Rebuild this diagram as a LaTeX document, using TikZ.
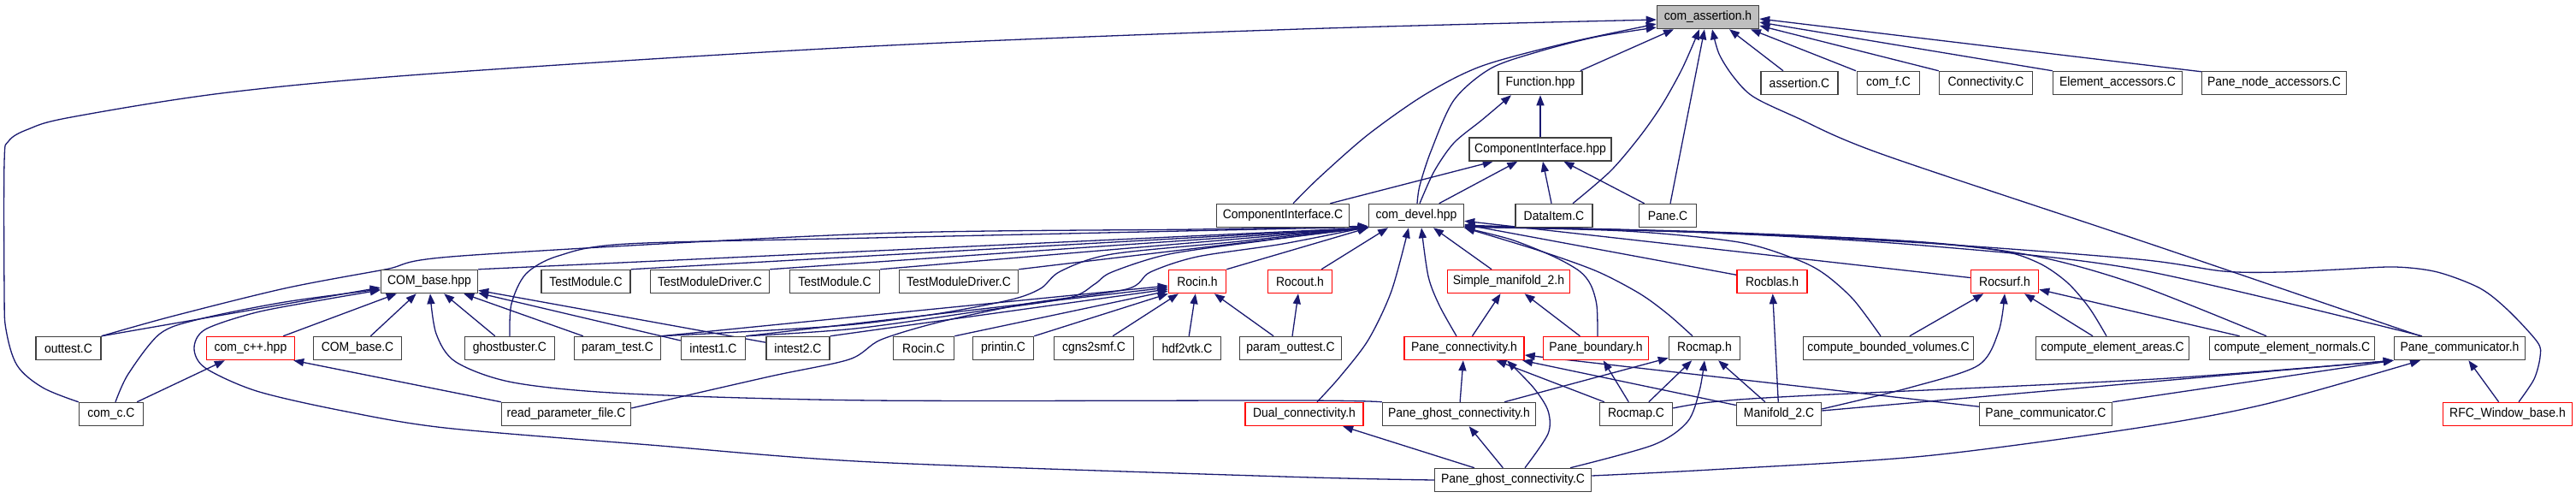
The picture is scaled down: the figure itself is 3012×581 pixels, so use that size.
\documentclass[tikz,border=0pt]{standalone}
\usepackage{fontspec}
\newfontfamily\dfont{Liberation Sans}[FakeStretch=0.93]
\usetikzlibrary{arrows.meta}
\definecolor{edgecol}{HTML}{191970}
\definecolor{boxline}{HTML}{404040}
\definecolor{fillgray}{HTML}{BFBFBF}
\definecolor{boxred}{HTML}{FF0000}
\pgfdeclarelayer{bg}
\pgfdeclarelayer{edges}
\pgfsetlayers{bg,edges,main}
\tikzset{
  box/.style={draw=boxline, line width=1.5pt, fill=white, minimum height=27pt, inner sep=0pt,
    font=\dfont\fontsize{15}{17}\selectfont, text=black},
  redbox/.style={box, draw=boxred},
  graybox/.style={box, fill=fillgray},
  dep/.style={draw=edgecol, line width=1.3pt, -{Triangle[length=12pt,width=9pt]}},
}
\newcommand{\bx}[6][box]{\node[#1, minimum width=#5pt] (#2) at (#3,#4) {#6};}
\begin{document}
\begin{tikzpicture}[x=1pt,y=-1pt]
\begin{pgfonlayer}{bg}
\fill[white] (0,0) rectangle (3012,581);
\end{pgfonlayer}
\useasboundingbox (0,0) rectangle (3012,581);
% row 1-4
\bx[graybox]{A}{1997}{20}{119}{com\_assertion.h}
\bx{FN}{1801}{97}{98}{Function.hpp}
\bx{AC}{2104}{97}{90}{assertion.C}
\bx{CF}{2208}{97}{73}{com\_f.C}
\bx{CN}{2322}{97}{109}{Connectivity.C}
\bx{EA}{2476}{97}{151}{Element\_accessors.C}
\bx{PNA}{2659}{97}{169}{Pane\_node\_accessors.C}
\bx{CIH}{1801}{174.5}{166}{ComponentInterface.hpp}
\bx{CIC}{1500}{252}{155}{ComponentInterface.C}
\bx{CD}{1656}{252}{111}{com\_devel.hpp}
\bx{DI}{1817}{252}{90}{DataItem.C}
\bx{PC}{1950}{252}{67}{Pane.C}
% row 5
\bx{CBH}{502}{329}{113}{COM\_base.hpp}
\bx{TMa}{685}{329}{104}{TestModule.C}
\bx{TMDa}{830}{329}{139}{TestModuleDriver.C}
\bx{TMb}{976}{329}{105}{TestModule.C}
\bx{TMDb}{1121}{329}{139}{TestModuleDriver.C}
\bx[redbox]{RIH}{1400}{329}{67}{Rocin.h}
\bx[redbox]{ROH}{1520}{329}{75}{Rocout.h}
\bx[redbox]{SM}{1764}{329}{143}{Simple\_manifold\_2.h}
\bx[redbox]{RBH}{2072}{329}{82}{Rocblas.h}
\bx[redbox]{RSH}{2344}{329}{79}{Rocsurf.h}
% row 6
\bx{OT}{80}{407}{76}{outtest.C}
\bx[redbox]{CPP}{293}{407}{103}{com\_c++.hpp}
\bx{CBC}{418}{407}{103}{COM\_base.C}
\bx{GB}{596}{407}{105}{ghostbuster.C}
\bx{PT}{722}{407}{101}{param\_test.C}
\bx{Ia}{834}{407}{75}{intest1.C}
\bx{Ib}{933}{407}{74}{intest2.C}
\bx{RIC}{1080}{407}{71}{Rocin.C}
\bx{PRI}{1173}{407}{71}{printin.C}
\bx{CG}{1279}{407}{93}{cgns2smf.C}
\bx{HV}{1388}{407}{79}{hdf2vtk.C}
\bx{POT}{1509}{407}{119}{param\_outtest.C}
\bx[redbox]{PCH}{1712}{407}{140}{Pane\_connectivity.h}
\bx[redbox]{PBH}{1866}{407}{123}{Pane\_boundary.h}
\bx{RMH}{1993}{407}{83}{Rocmap.h}
\bx{CBV}{2208}{407}{199}{compute\_bounded\_volumes.C}
\bx{CEA}{2470}{407}{179}{compute\_element\_areas.C}
\bx{CEN}{2680}{407}{193}{compute\_element\_normals.C}
\bx{PCMH}{2876}{407}{153}{Pane\_communicator.h}
% row 7
\bx{CC}{130}{484}{75}{com\_c.C}
\bx{RPF}{662}{484}{151}{read\_parameter\_file.C}
\bx[redbox]{DC}{1525}{484}{138}{Dual\_connectivity.h}
\bx{PGH}{1706}{484}{179}{Pane\_ghost\_connectivity.h}
\bx{RMC}{1913}{484}{85}{Rocmap.C}
\bx{M2}{2080}{484}{99}{Manifold\_2.C}
\bx{PCMC}{2392}{484}{155}{Pane\_communicator.C}
\bx[redbox]{RFC}{2932}{484}{151}{RFC\_Window\_base.h}
% row 8
\bx{PGC}{1769}{561}{183}{Pane\_ghost\_connectivity.C}

\begin{pgfonlayer}{edges}
% into com_assertion.h
\draw[dep] plot[smooth,tension=0.55] coordinates {(CC.north west) (50,453) (20,427) (7,385) (5,340) (5,190) (10,165) (33,151) (83,137) (267,108) (520,85) (1020,54) (1520,34) ([yshift=-3pt]A.west)};
\draw[dep] plot[smooth] coordinates {([xshift=12pt]CIC.north) (1543,207) (1600,157) (1667,110) (1733,77) (1833,50) ([yshift=-8pt]A.west)};
\draw[dep] plot[smooth] coordinates {([xshift=1pt]CD.north) (1660,217) (1673,177) (1700,117) (1743,80) (1800,60) (1867,43) ([yshift=-12pt]A.west)};
\draw[dep] ([xshift=-3pt]FN.north east) -- ([xshift=-40pt]A.south);
\draw[dep] plot[smooth] coordinates {([xshift=22pt]DI.north) (1883,200) (1917,160) (1943,123) (1967,80) ([xshift=-10pt]A.south)};
\draw[dep] ([xshift=3pt]PC.north) -- ([xshift=-4pt]A.south);
\draw[dep] ([xshift=-19pt]AC.north) -- ([xshift=25pt]A.south);
\draw[dep] ([xshift=-38pt]CF.north) -- ([xshift=50pt]A.south);
\draw[dep] (CN.north west) -- ([yshift=-10pt]A.east);
\draw[dep] (EA.north west) -- ([yshift=-6pt]A.east);
\draw[dep] ([yshift=-1pt]PNA.north west) -- ([yshift=-2pt]A.east);
\draw[dep] plot[smooth] coordinates {([xshift=-46pt]PCMH.north) (2520,287) (2200,180) (2100,137) (2050,113) (2027,90) (2010,63) ([xshift=5pt]A.south)};
% into Function.hpp
\draw[dep] plot[smooth] coordinates {([xshift=4pt]CD.north) (1677,200) (1700,167) (1733,140) ([xshift=-34pt]FN.south)};
\draw[dep] (CIH) -- (FN);
% into ComponentInterface.hpp
\draw[dep] (CIC) -- (CIH);
\draw[dep] (CD) -- (CIH);
\draw[dep] (DI) -- (CIH);
\draw[dep] (PC) -- (CIH);
% into com_devel.hpp
\draw[dep] (CBH.north east) -- (CD.south west);
\draw[dep] plot[smooth] coordinates {(OT.north east) (200,370) (333,337) (450,315) (540,299) (1020,273) (1400,268) ([yshift=2pt]CD.south west)};
\draw[dep] plot[smooth] coordinates {(GB.north) (598,355) (615,320) (653,299) (733,285) (1020,278) ([yshift=1pt]CD.south west)};
\draw[dep] (TMa.north east) -- (CD.south west);
\draw[dep] (TMDa.north east) -- (CD.south west);
\draw[dep] (TMb.north east) -- (CD.south west);
\draw[dep] (TMDb.north east) -- (CD.south west);
\draw[dep] (RIH.north east) -- (CD.south west);
\draw[dep] ([xshift=25pt]ROH.north) -- ([xshift=-33pt]CD.south);
\draw[dep] plot[smooth] coordinates {([xshift=15pt]DC.north) (1567,440) (1600,397) (1627,340) ([xshift=-9pt]CD.south)};
\draw[dep] plot[smooth] coordinates {([xshift=-9pt]PCH.north) (1683,357) (1670,323) ([xshift=6pt]CD.south)};
\draw[dep] (SM) -- (CD);
\draw[dep] plot[smooth] coordinates {([xshift=2pt]PBH.north) (1867,357) (1860,333) (1847,317) (1817,300) (1767,280) (CD.south east)};
\draw[dep] plot[smooth] coordinates {([xshift=-14pt]RMH.north) (1950,367) (1917,343) (1867,317) (1800,293) (CD.south east)};
\draw[dep] (RBH) -- (CD);
\draw[dep] (RSH) -- (CD);
\draw[dep] plot[smooth] coordinates {([xshift=-9pt]CBV.north) (2167,350) (2133,320) (2100,303) (2033,283) (1900,270) ([yshift=1pt]CD.south east)};
\draw[dep] plot[smooth] coordinates {([xshift=-7pt]CEA.north) (2443,360) (2417,330) (2383,307) (2333,292) (2200,280) (1950,270) ([yshift=1pt]CD.south east)};
\draw[dep] plot[smooth] coordinates {([xshift=-30pt]CEN.north) (2500,333) (2383,300) (2250,283) (2000,271) ([yshift=2pt]CD.south east)};
\draw[dep] plot[smooth] coordinates {([xshift=-44pt]PCMH.north) (2500,315) (2250,287) (2000,272) ([yshift=2pt]CD.south east)};
\draw[dep] plot[smooth] coordinates {([xshift=13pt]RFC.north) (2963,443) (2970,417) (2967,400) (2933,363) (2900,337) (2850,318) (2800,312) (2733,315) (2667,318) (2600,317) (2500,303) (2250,284) (2000,272) ([yshift=3pt]CD.south east)};
\draw[dep] plot[smooth] coordinates {(PT.north east) (900,386) (1000,379) (1100,366) (1183,350) (1217,337) (1240,317) (1300,297) (1450,282) ([yshift=1pt]CD.south west)};
\draw[dep] plot[smooth] coordinates {(Ia.north east) (1000,384) (1150,363) (1250,348) (1280,332) (1300,318) (1367,297) (1480,281) ([yshift=1pt]CD.south west)};
\draw[dep] plot[smooth] coordinates {([yshift=7pt]RPF.east) (900,440) (993,420) (1030,397) (1100,376) (1200,355) (1317,338) (1345,318) (1400,300) (1500,285) ([yshift=1pt]CD.south west)};
% into COM_base.hpp
\draw[dep] (OT.north east) -- ([yshift=-7pt]CBH.west);
\draw[dep] plot[smooth] coordinates {([xshift=5pt]CC.north) (150,437) (187,390) (233,373) (333,353) ([yshift=-9pt]CBH.west)};
\draw[dep] (CPP) -- (CBH);
\draw[dep] (CBC) -- (CBH);
\draw[dep] (GB) -- (CBH);
\draw[dep] (PT) -- (CBH);
\draw[dep] (Ia) -- (CBH);
\draw[dep] (Ib) -- (CBH);
\draw[dep] plot[smooth] coordinates {(PGH.north west) (1520,468) (1020,468) (733,460) (600,447) (533,423) (510,390) ([xshift=1pt]CBH.south)};
\draw[dep] plot[smooth] coordinates {(PGC.west) (1500,557) (1020,540) (760,520) (520,500) (400,480) (300,457) (240,430) (227,407) (240,385) (300,365) (380,350) ([yshift=-10pt]CBH.west)};
% into com_c++.hpp
\draw[dep] (CC) -- (CPP);
\draw[dep] (RPF.north west) -- ([xshift=-2pt]CPP.south east);
% into Rocin.h / Rocout.h
\draw[dep] (PT.north east) -- ([yshift=-5pt]RIH.west);
\draw[dep] (Ia.north east) -- ([yshift=-7pt]RIH.west);
\draw[dep] (Ib.north east) -- ([yshift=-9pt]RIH.west);
\draw[dep] (RIC.north east) -- ([yshift=-11pt]RIH.west);
\draw[dep] (PRI.north east) -- (RIH.south west);
\draw[dep] (CG) -- (RIH);
\draw[dep] (HV) -- (RIH);
\draw[dep] (POT) -- (RIH);
\draw[dep] (POT) -- (ROH);
% into Simple_manifold_2.h
\draw[dep] (PCH) -- (SM);
\draw[dep] (PBH) -- (SM);
% into Pane_connectivity.h
\draw[dep] (PGH) -- (PCH);
\draw[dep] (RMC) -- (PCH);
\draw[dep] plot[smooth] coordinates {([xshift=14pt]PGC.north) (1810,507) (1810,480) (1793,453) ([xshift=50pt]PCH.south)};
\draw[dep] (M2) -- (PCH);
\draw[dep] (PCMC) -- (PCH);
% into Pane_boundary.h
\draw[dep] (RMC) -- (PBH);
% into Rocmap.h
\draw[dep] (PGH) -- (RMH);
\draw[dep] (RMC) -- (RMH);
\draw[dep] plot[smooth] coordinates {([xshift=67pt]PGC.north) (1933,520) (1973,493) (1987,457) (RMH.south)};
\draw[dep] (M2) -- (RMH);
% into Rocblas.h, Rocsurf.h
\draw[dep] (M2) -- (RBH);
\draw[dep] (CBV) -- (RSH);
\draw[dep] (CEA) -- (RSH);
\draw[dep] (CEN) -- (RSH);
\draw[dep] plot[smooth] coordinates {([yshift=6pt]M2.east) (2233,453) (2313,427) (2337,387) (RSH.south)};
% into Pane_communicator.h
\draw[dep] plot[smooth] coordinates {([yshift=7pt]RMC.east) (2000,470) (2100,463) (2520,443) (PCMH.south west)};
\draw[dep] ([yshift=4pt]M2.east) -- (PCMH.south west);
\draw[dep] (PCMC.north east) -- (PCMH.south west);
\draw[dep] plot[smooth] coordinates {([yshift=5pt]PGC.east) (2000,549) (2250,533) (2500,500) (2650,472) ([xshift=-46pt]PCMH.south)};
\draw[dep] (RFC) -- (PCMH);
% into Dual_connectivity.h, Pane_ghost_connectivity.h
\draw[dep] (PGC) -- (DC);
\draw[dep] (PGC) -- (PGH);
\end{pgfonlayer}
\end{tikzpicture}
\end{document}
